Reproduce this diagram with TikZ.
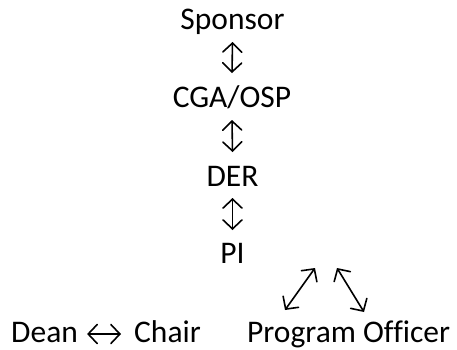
\documentclass[tikz,border=0pt]{standalone}
\usepackage{fontspec}
\setmainfont{Carlito}[Ligatures=NoCommon]
\usetikzlibrary{arrows.meta,calc}
\begin{document}
\begin{tikzpicture}[x=1pt,y=-1pt,
  lbl/.style={inner sep=0pt, anchor=base, font=\fontsize{31.5}{36}\selectfont},
  link/.style={line width=1.6pt, {Straight Barb[length=9pt,width=19pt,line cap=round]}-{Straight Barb[length=9pt,width=19pt,line cap=round]}}]
\useasboundingbox (0,0) rectangle (457,349);
\node[lbl] (sponsor) at (232.5,29) {Sponsor};
\node[lbl] (cga) at (232,107) {CGA/OSP};
\node[lbl] (der) at (232.5,186) {DER};
\node[lbl] (pi) at (232.5,263) {PI};
\node[lbl, anchor=base west] (dean) at (11,342) {Dean};
\node[lbl, anchor=base west] (chair) at (134,342) {Chair};
\node[lbl, anchor=base west] (po) at (247,342) {Program Officer};
\draw[link] ($(sponsor.base)+(0,13)$) -- ($(cga.base)+(0,-34)$);
\draw[link] ($(cga.base)+(0,13)$) -- ($(der.base)+(0,-34)$);
\draw[link] ($(der.base)+(0,12)$) -- ($(pi.base)+(0,-33)$);
\coordinate (la) at (315,268);
\coordinate (lb) at (285,310);
\coordinate (ra) at (337,268);
\coordinate (rb) at (364,312);
\draw[link] (la) -- (lb);
\draw[link] (ra) -- (rb);
\draw[link] ($(dean.base east)+(9,-8)$) -- ($(chair.base west)+(-13,-8)$);
\end{tikzpicture}
\end{document}
